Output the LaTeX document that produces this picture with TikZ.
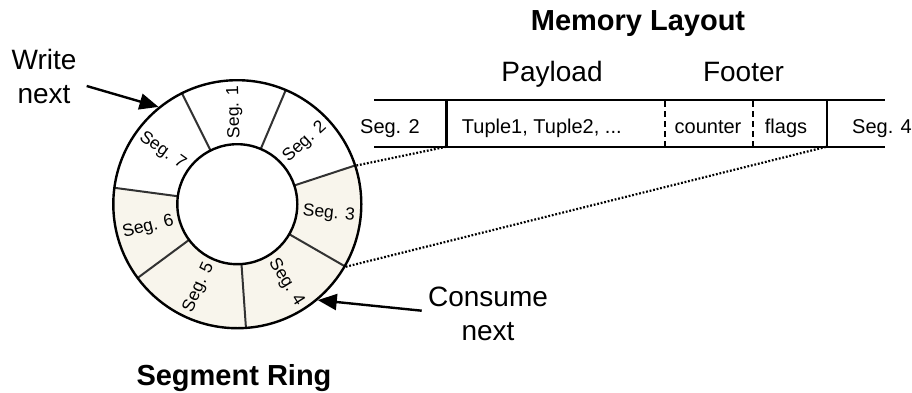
\documentclass[tikz,border=0pt]{standalone}
\usepackage{fontspec}
\setmainfont{Liberation Sans}
\usetikzlibrary{arrows.meta}
\definecolor{segfill}{RGB}{248,245,236}
\definecolor{divider}{RGB}{50,50,50}
\tikzset{
  ringline/.style={draw=black, line width=2.4pt},
  segdiv/.style={draw=divider, line width=2pt},
  seglabel/.style={font=\fontsize{17.5}{20}\selectfont, inner sep=0pt},
  celllabel/.style={font=\fontsize{20}{24}\selectfont, anchor=base, inner sep=0pt},
  biglabel/.style={font=\fontsize{28}{34}\selectfont, align=center, anchor=base, inner sep=0pt},
  titlelabel/.style={font=\bfseries\fontsize{29}{33}\selectfont, anchor=base, inner sep=0pt},
  stripline/.style={draw=black, line width=2.4pt},
  cellsep/.style={draw=black, line width=2.2pt, dash pattern=on 6pt off 4pt},
  zoomline/.style={draw=black, line width=2.2pt, dash pattern=on 1.8pt off 1.8pt},
  pointer/.style={draw=black, line width=2.4pt, -{Triangle[length=19pt,width=16pt]}}
}
% sector of the ring between two angles
\newcommand{\ringsector}[3]{%
  \path[#3] (#1:60) -- (#1:124) arc[start angle=#1, end angle=#2, radius=124]
    -- (#2:60) arc[start angle=#2, end angle=#1, radius=60] -- cycle;}
\begin{document}
\begin{tikzpicture}[x=1pt, y=1pt]
\useasboundingbox (0,0) rectangle (912,392);

% ---------------- segment ring ----------------
\coordinate (c) at (237.3,187.8);
\begin{scope}[shift={(c)}]
  \ringsector{67}{116.5}{fill=white}
  \ringsector{18.2}{67}{fill=white}
  \ringsector{-30}{18.2}{fill=segfill}
  \ringsector{-86}{-30}{fill=segfill}
  \ringsector{-143.5}{-86}{fill=segfill}
  \ringsector{-187.6}{-143.5}{fill=segfill}
  \ringsector{116.5}{172.4}{fill=white}
  \foreach \a in {116.5,67,18.2,-30,-86,-143.5,172.4}
    \draw[segdiv] (\a:60) -- (\a:124);
  \node[seglabel, rotate=91.75]  (s1) at (91.75:92)   {Seg. 1};
  \node[seglabel, rotate=42.6]   (s2) at (42.6:92)    {Seg. 2};
  \node[seglabel, rotate=-5.9]   (s3) at (-5.9:92)    {Seg. 3};
  \node[seglabel, rotate=-58]    (s4) at (-58:92)     {Seg. 4};
  \node[seglabel, rotate=65.25]  (s5) at (-114.75:92) {Seg. 5};
  \node[seglabel, rotate=14.45]  (s6) at (-165.55:92) {Seg. 6};
  \node[seglabel, rotate=-35.55] (s7) at (144.45:92)  {Seg. 7};
\end{scope}
\node[circle, ringline, minimum size=248pt, inner sep=0pt] (ring) at (c) {};
\node[circle, ringline, minimum size=120pt, inner sep=0pt, fill=white] (hub) at (c) {};

\node[titlelabel] (ringtitle) at (234,7) {Segment Ring};

% ---------------- pointers ----------------
\node[biglabel] (writelbl) at (44,289) {Write\\next};
\coordinate (wstart) at (86.7,306);
\draw[pointer] (wstart) -- (ring.129.4);

\node[biglabel] (consumelbl) at (488,52) {Consume\\next};
\coordinate (cstart) at (421.7,81.3);
\draw[pointer] (cstart) -- (ring.-50.6);

% ---------------- memory layout ----------------
\node[titlelabel] (memtitle) at (638,361) {Memory Layout};
\node[biglabel] (payload) at (552,311) {Payload};
\node[biglabel] (footer) at (743.5,311) {Footer};

\coordinate (tl) at (374,292);
\coordinate (tr) at (885,292);
\coordinate (bl) at (374,245.3);
\coordinate (br) at (885,245.3);
\coordinate (sA) at (446.5,245.3);
\coordinate (sB) at (826.7,245.3);
\coordinate (dA) at (665,245.3);
\coordinate (dB) at (752.7,245.3);

\draw[stripline] (tl) -- (tr);
\draw[stripline] (bl) -- (br);
\draw[stripline] (sA) -- (sA |- tl);
\draw[stripline] (sB) -- (sB |- tl);
\draw[cellsep] (dA) -- (dA |- tl);
\draw[cellsep] (dB) -- (dB |- tl);

\node[celllabel] (cseg2) at (390,258.7) {Seg. 2};
\node[celllabel] (ctuple) at (541.8,258.7) {Tuple1, Tuple2, ...};
\node[celllabel] (ccounter) at (708,258.7) {counter};
\node[celllabel] (cflags) at (786,258.7) {flags};
\node[celllabel] (cseg4) at (882,258.7) {Seg. 4};

% ---------------- zoom lines ----------------
\draw[zoomline] (ring.18.2) -- (sA);
\draw[zoomline] (ring.-30) -- (sB);
\end{tikzpicture}
\end{document}
